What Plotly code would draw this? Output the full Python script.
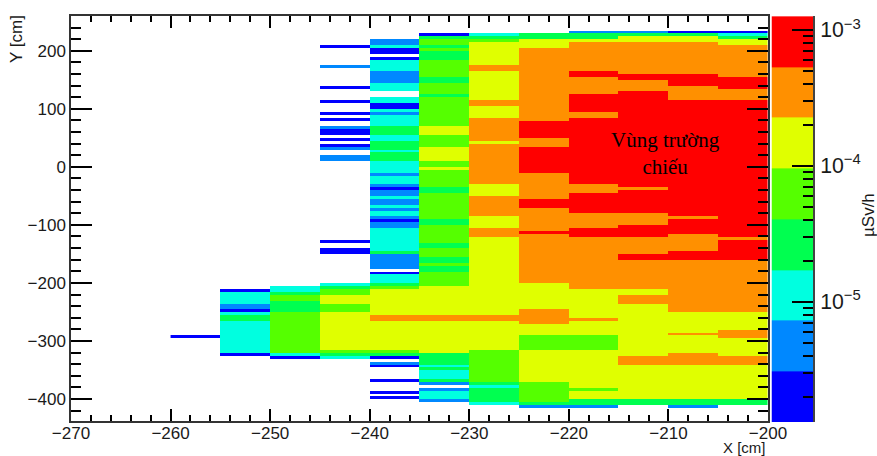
import plotly.graph_objects as go

# Colour bands: index 0..7 of the stepped palette
band_colors = ["#0000ff", "#0088ff", "#00ffe0", "#00ff50", "#55ff00", "#e0ff00", "#ff9000", "#ff0000"]
band_edges = [1.31e-6, 3.09e-6, 7.29e-6, 1.72e-5, 4.06e-5, 9.6e-5, 2.26e-4, 5.34e-4, 1.26e-3]

x_edges = [-260, -255, -250, -245, -240, -235, -230, -225, -220, -215, -210, -205, -200]
y_edges = list(range(-440, 245, 5))

# Each column: (upper Y, lower Y, colour band)
col_260 = [(-290, -295, 0)]
col_255 = [(-210, -215, 0), (-215, -235, 2), (-235, -245, 1), (-245, -250, 0), (-250, -255, 2),
           (-255, -265, 3), (-265, -320, 2), (-320, -325, 0)]
col_250 = [(-205, -215, 2), (-215, -220, 3), (-220, -230, 4), (-230, -250, 3), (-250, -320, 4),
           (-320, -325, 2), (-325, -330, 0)]
col_245 = [(210, 205, 0), (175, 170, 1), (140, 135, 0), (115, 110, 0), (95, 90, 0), (85, 80, 0),
           (70, 65, 1), (65, 55, 0), (50, 45, 0), (40, 35, 0), (35, 30, 1), (20, 10, 1),
           (-125, -130, 0), (-140, -150, 0),
           (-200, -205, 2), (-205, -210, 3), (-210, -220, 4), (-220, -235, 5), (-235, -250, 4),
           (-250, -315, 5), (-315, -320, 4), (-320, -325, 3), (-325, -330, 2)]
col_240 = [(220, 210, 1), (210, 205, 2), (205, 195, 0), (190, 185, 0), (185, 165, 2), (165, 145, 1),
           (145, 130, 2), (120, 110, 2), (110, 100, 0), (100, 95, 2), (95, 90, 1), (90, 70, 2),
           (70, 55, 3), (55, 45, 2), (45, 30, 3), (30, 25, 2), (25, 10, 3), (10, -10, 2),
           (-10, -15, 1), (-15, -30, 2), (-30, -35, 1), (-35, -40, 0), (-40, -50, 1), (-50, -55, 2),
           (-55, -65, 1), (-65, -70, 2), (-70, -75, 1), (-75, -85, 2), (-85, -90, 1), (-90, -95, 0),
           (-95, -105, 1), (-105, -145, 2), (-145, -150, 3), (-150, -175, 1), (-180, -185, 0),
           (-185, -200, 2), (-200, -205, 3), (-205, -210, 4), (-210, -255, 5), (-255, -265, 6),
           (-265, -315, 5), (-315, -320, 4), (-320, -325, 3), (-325, -330, 0), (-335, -340, 1),
           (-340, -345, 0), (-365, -370, 0), (-385, -390, 0), (-395, -400, 0)]
col_235 = [(230, 225, 0), (225, 220, 3), (220, 210, 4), (210, 205, 3), (205, 200, 4), (200, 185, 3),
           (185, 155, 4), (155, 145, 3), (145, 125, 4), (125, 120, 3), (120, 70, 4), (70, 55, 5),
           (55, 35, 4), (35, 10, 5), (10, 0, 4), (0, -5, 5), (-5, -35, 4), (-35, -45, 3),
           (-45, -90, 4), (-90, -100, 3), (-100, -130, 4), (-130, -140, 3), (-140, -155, 4),
           (-155, -165, 3), (-165, -170, 4), (-170, -180, 3), (-180, -205, 4), (-205, -255, 5),
           (-255, -265, 6), (-265, -320, 5), (-320, -340, 3), (-340, -345, 2), (-345, -350, 3),
           (-350, -365, 2), (-365, -370, 3), (-370, -375, 1), (-380, -385, 1), (-385, -400, 2),
           (-400, -405, 1)]
col_230 = [(230, 225, 2), (225, 220, 3), (220, 215, 4), (215, 175, 5), (175, 165, 6), (165, 115, 5),
           (115, 105, 6), (105, 85, 5), (85, 45, 6), (45, 40, 5), (40, -30, 6), (-30, -50, 5),
           (-50, -85, 6), (-85, -105, 5), (-105, -120, 6), (-120, -255, 5), (-255, -265, 6),
           (-265, -315, 5), (-315, -370, 4), (-370, -375, 3), (-375, -380, 2), (-380, -405, 3),
           (-405, -410, 2)]
col_225 = [(230, 220, 3), (220, 205, 5), (205, 80, 6), (80, 50, 7), (50, 35, 6), (35, -10, 7),
           (-10, -55, 6), (-55, -70, 7), (-70, -110, 6), (-110, -115, 7), (-115, -200, 6),
           (-200, -245, 5), (-245, -270, 6), (-270, -290, 5), (-290, -315, 4), (-315, -370, 5),
           (-370, -405, 4), (-405, -410, 3), (-410, -415, 1)]
col_220 = [(235, 230, 1), (230, 220, 3), (220, 215, 5), (215, 165, 6), (165, 155, 7), (155, 125, 6),
           (125, 95, 7), (95, 85, 6), (85, -30, 7), (-30, -45, 6), (-45, -80, 7), (-80, -105, 6),
           (-105, -120, 7), (-120, -210, 6), (-210, -260, 5), (-260, -265, 6), (-265, -290, 5),
           (-290, -315, 4), (-315, -380, 5), (-380, -385, 4), (-385, -400, 5), (-400, -410, 3),
           (-410, -415, 1)]
col_215 = [(235, 230, 1), (230, 225, 3), (225, 215, 5), (215, 160, 6), (160, 150, 7), (150, 130, 6),
           (130, -35, 7), (-35, -40, 6), (-40, -80, 7), (-80, -100, 6), (-100, -120, 7),
           (-120, -150, 6), (-150, -160, 7), (-160, -210, 6), (-210, -220, 5), (-220, -235, 6),
           (-235, -325, 5), (-325, -340, 6), (-340, -400, 5), (-400, -410, 3)]
col_210 = [(235, 230, 0), (230, 225, 3), (225, 215, 5), (215, 160, 6), (160, 140, 7), (140, 115, 6),
           (115, -85, 7), (-85, -90, 6), (-90, -115, 7), (-115, -145, 6), (-145, -160, 7),
           (-160, -250, 6), (-250, -285, 5), (-285, -290, 6), (-290, -320, 5), (-320, -340, 6),
           (-340, -400, 5), (-400, -410, 3), (-410, -415, 1)]
col_205 = [(235, 230, 0), (230, 225, 2), (225, 220, 3), (220, 210, 5), (210, 155, 6), (155, 135, 7),
           (135, 115, 6), (115, -120, 7), (-120, -125, 6), (-125, -160, 7), (-160, -250, 6),
           (-250, -280, 5), (-280, -295, 6), (-295, -325, 5), (-325, -340, 6), (-340, -400, 5),
           (-400, -410, 3)]
columns = [col_260, col_255, col_250, col_245, col_240, col_235, col_230, col_225, col_220,
           col_215, col_210, col_205]

z = [[None] * len(columns) for _ in range(len(y_edges) - 1)]
for ci, runs in enumerate(columns):
    for top, bottom, level in runs:
        for ri in range(len(y_edges) - 1):
            if y_edges[ri] >= bottom and y_edges[ri + 1] <= top:
                z[ri][ci] = level

n = len(band_colors)
scale = []
for i, c in enumerate(band_colors):
    scale += [[i / n, c], [(i + 1) / n, c]]

W, H = 877, 456
common = dict(colorscale=scale, zmin=-0.5, zmax=n - 0.5, showscale=False, hoverinfo="skip")
fig = go.Figure()
fig.add_trace(go.Heatmap(x=x_edges, y=y_edges, z=z, xaxis="x", yaxis="y", **common))
fig.add_trace(go.Heatmap(x=[0, 1], y=band_edges, z=[[i] for i in range(n)], xaxis="x2", yaxis="y2", **common))

fnt = dict(family="Liberation Sans, Arial, sans-serif", size=17, color="#1a1a1a")
tick = dict(ticks="inside", tickwidth=1.6, tickcolor="black")
fig.update_layout(
    width=W, height=H, autosize=False, margin=dict(l=0, r=0, t=0, b=0, autoexpand=False),
    paper_bgcolor="white", plot_bgcolor="white", showlegend=False, font=fnt,
    xaxis=dict(domain=[71 / W, 768 / W], range=[-270, -200], anchor="y", dtick=10, tick0=-270,
               ticklen=12, mirror="allticks", ticklabelstandoff=-4, **tick,
               showline=True, linecolor="#333", linewidth=1.5, showgrid=False, zeroline=False,
               minor=dict(dtick=2, ticklen=6, showgrid=False, **tick),
               tickfont=fnt),
    yaxis=dict(domain=[(H - 421) / H, (H - 16) / H], range=[-438, 260], anchor="x", dtick=100, tick0=0,
               ticklen=21, mirror="allticks", **tick,
               showline=True, linecolor="#333", linewidth=1.5, showgrid=False, zeroline=False,
               minor=dict(dtick=20, ticklen=10, showgrid=False, **tick),
               tickfont=fnt),
    xaxis2=dict(domain=[771.5 / W, 813 / W], range=[0, 1], anchor="y2", visible=False),
    yaxis2=dict(domain=[(H - 422) / H, (H - 16) / H], type="log", range=[-5.883, -2.897], anchor="x2",
                side="right", dtick=1, exponentformat="power", ticklen=21, **tick,
                showline=True, linecolor="#444", linewidth=1.5, showgrid=False, zeroline=False,
                ticklabelstandoff=2,
                minor=dict(dtick="D1", ticklen=10, showgrid=False, **tick),
                tickfont=fnt),
    annotations=[
        dict(text="X [cm]", xref="paper", yref="paper", x=768 / W, y=(H - 447.5) / H, xanchor="right",
             yanchor="middle", showarrow=False, font=dict(fnt, size=15)),
        dict(text="Y [cm]", xref="paper", yref="paper", x=17 / W, y=(H - 39) / H, textangle=-90,
             xanchor="center", yanchor="middle", showarrow=False, font=fnt),
        dict(text="µSv/h", xref="paper", yref="paper", x=869 / W, y=(H - 215) / H, textangle=-90,
             xanchor="center", yanchor="middle", showarrow=False, font=fnt),
        dict(text="Vùng trường<br>chiếu", xref="x", yref="y", x=-210.3, y=23, xanchor="center",
             yanchor="middle", showarrow=False, align="center",
             font=dict(family="Liberation Serif, Times New Roman, serif", size=21, color="black")),
    ],
)
fig.write_html("out.html", post_script="document.body.style.margin='0';", config={"displayModeBar": False})
